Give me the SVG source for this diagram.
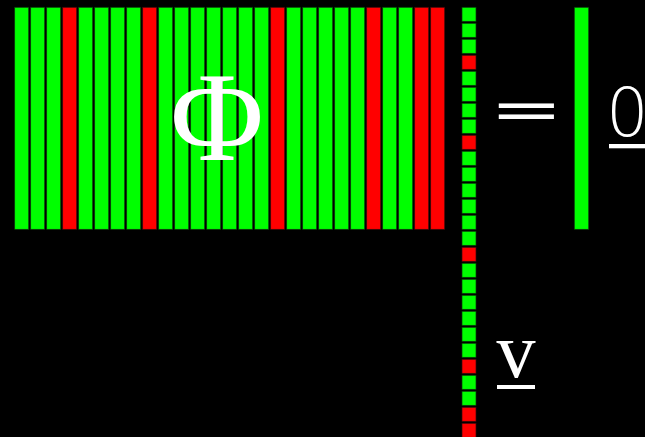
<svg xmlns="http://www.w3.org/2000/svg" width="645" height="437" viewBox="0 0 645 437">
<style>
.g{fill:#00ff00;stroke:#0a3a0a;stroke-width:0.7}
.r{fill:#ff0000;stroke:#3a0a0a;stroke-width:0.7}
.t{fill:#ffffff}
.serif{font-family:"Liberation Serif","Times New Roman",serif}
.dv{font-family:"DejaVu Sans",sans-serif}
.light{font-family:"DejaVu Sans",sans-serif;font-weight:200}
</style>
<rect width="645" height="437" fill="#000"/>
<g id="matrix">
<rect class="g" x="14.7" y="7.3" width="14" height="222"/>
<rect class="g" x="30.7" y="7.3" width="14" height="222"/>
<rect class="g" x="46.7" y="7.3" width="14" height="222"/>
<rect class="r" x="62.7" y="7.3" width="14" height="222"/>
<rect class="g" x="78.7" y="7.3" width="14" height="222"/>
<rect class="g" x="94.7" y="7.3" width="14" height="222"/>
<rect class="g" x="110.7" y="7.3" width="14" height="222"/>
<rect class="g" x="126.7" y="7.3" width="14" height="222"/>
<rect class="r" x="142.7" y="7.3" width="14" height="222"/>
<rect class="g" x="158.7" y="7.3" width="14" height="222"/>
<rect class="g" x="174.7" y="7.3" width="14" height="222"/>
<rect class="g" x="190.7" y="7.3" width="14" height="222"/>
<rect class="g" x="206.7" y="7.3" width="14" height="222"/>
<rect class="g" x="222.7" y="7.3" width="14" height="222"/>
<rect class="g" x="238.7" y="7.3" width="14" height="222"/>
<rect class="g" x="254.7" y="7.3" width="14" height="222"/>
<rect class="r" x="270.7" y="7.3" width="14" height="222"/>
<rect class="g" x="286.7" y="7.3" width="14" height="222"/>
<rect class="g" x="302.7" y="7.3" width="14" height="222"/>
<rect class="g" x="318.7" y="7.3" width="14" height="222"/>
<rect class="g" x="334.7" y="7.3" width="14" height="222"/>
<rect class="g" x="350.7" y="7.3" width="14" height="222"/>
<rect class="r" x="366.7" y="7.3" width="14" height="222"/>
<rect class="g" x="382.7" y="7.3" width="14" height="222"/>
<rect class="g" x="398.7" y="7.3" width="14" height="222"/>
<rect class="r" x="414.7" y="7.3" width="14" height="222"/>
<rect class="r" x="430.7" y="7.3" width="14" height="222"/>
<text class="t serif" x="217" y="160" font-size="128" text-anchor="middle">Φ</text>
</g>
<g id="vector">
<rect class="g" x="462" y="7.3" width="14" height="14"/>
<rect class="g" x="462" y="23.3" width="14" height="14"/>
<rect class="g" x="462" y="39.3" width="14" height="14"/>
<rect class="r" x="462" y="55.3" width="14" height="14"/>
<rect class="g" x="462" y="71.3" width="14" height="14"/>
<rect class="g" x="462" y="87.3" width="14" height="14"/>
<rect class="g" x="462" y="103.3" width="14" height="14"/>
<rect class="g" x="462" y="119.3" width="14" height="14"/>
<rect class="r" x="462" y="135.3" width="14" height="14"/>
<rect class="g" x="462" y="151.3" width="14" height="14"/>
<rect class="g" x="462" y="167.3" width="14" height="14"/>
<rect class="g" x="462" y="183.3" width="14" height="14"/>
<rect class="g" x="462" y="199.3" width="14" height="14"/>
<rect class="g" x="462" y="215.3" width="14" height="14"/>
<rect class="g" x="462" y="231.3" width="14" height="14"/>
<rect class="r" x="462" y="247.3" width="14" height="14"/>
<rect class="g" x="462" y="263.3" width="14" height="14"/>
<rect class="g" x="462" y="279.3" width="14" height="14"/>
<rect class="g" x="462" y="295.3" width="14" height="14"/>
<rect class="g" x="462" y="311.3" width="14" height="14"/>
<rect class="g" x="462" y="327.3" width="14" height="14"/>
<rect class="g" x="462" y="343.3" width="14" height="14"/>
<rect class="r" x="462" y="359.3" width="14" height="14"/>
<rect class="g" x="462" y="375.3" width="14" height="14"/>
<rect class="g" x="462" y="391.3" width="14" height="14"/>
<rect class="r" x="462" y="407.3" width="14" height="14"/>
<rect class="r" x="462" y="423.3" width="14" height="14"/>
</g>
<g id="vlabel">
<text class="t serif" x="516" y="377" font-size="78" text-anchor="middle">v</text>
<rect class="t" x="497" y="385" width="38" height="4"/>
</g>
<g id="equals">
<text class="t dv" x="489.6" y="140" font-size="88" transform="translate(0 112.5) scale(1 0.62) translate(0 -112.8)">=</text>
</g>
<g id="zero">
<rect class="g" x="574.3" y="7.3" width="14.4" height="222"/>
</g>
<g id="zerolabel">
<text class="t light" x="606" y="136" font-size="67">0</text>
<rect class="t" x="609" y="144" width="40" height="4.3"/>
</g>
</svg>
